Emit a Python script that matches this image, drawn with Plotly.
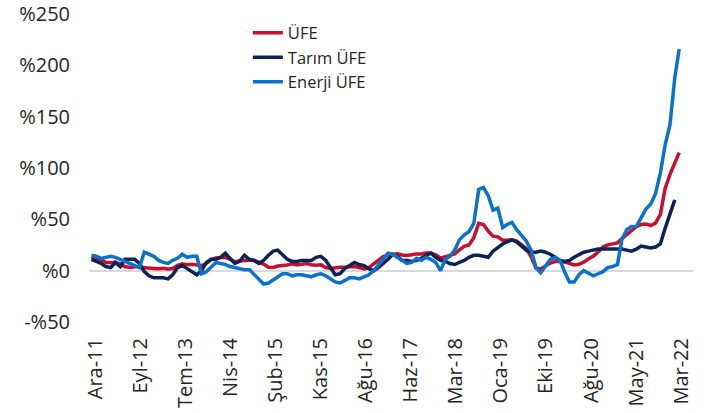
import numpy as np
import pandas as pd
import plotly.graph_objects as go

# Monthly dates: Dec 2011 .. Mar 2022
dates = pd.date_range("2011-12-01", "2022-03-01", freq="MS")

ufe = [13.33,
       11.13, 10.43, 8.22, 7.65, 8.28, 6.44, 3.98, 3.17, 4.03, 4.30, 2.79, 2.45,
       1.88, 1.84, 2.30, 1.70, 2.17, 5.23, 6.61, 5.79, 6.23, 5.67, 4.83, 6.97,
       10.72, 12.40, 12.31, 12.98, 11.28, 8.75, 9.46, 10.20, 10.10, 10.10, 8.36, 6.36,
       3.28, 3.10, 4.50, 4.80, 5.52, 6.73, 5.62, 6.21, 6.92, 5.74, 5.25, 5.71,
       3.03, 2.12, 2.87, 3.34, 3.25, 3.41, 3.96, 3.03, 1.78, 2.84, 6.41, 9.94,
       13.69, 15.36, 16.09, 16.37, 15.26, 14.87, 15.45, 16.34, 16.28, 17.28, 17.30, 15.47,
       12.14, 13.71, 14.28, 16.37, 20.16, 23.71, 25.00, 32.13, 46.15, 45.01, 38.54, 33.64,
       32.93, 29.59, 29.64, 30.12, 28.71, 25.04, 21.66, 13.45, 2.45, 1.70, 4.26, 7.36,
       8.84, 9.26, 8.50, 6.71, 5.53, 6.17, 8.33, 11.53, 14.33, 18.20, 23.11, 25.15,
       26.16, 27.09, 31.20, 35.17, 38.33, 42.89, 44.92, 45.52, 43.96, 46.31, 54.62, 79.89,
       93.53, 105.01, 114.97]

tarim_ufe = [11, 9, 7, 4, 3, 8, 4, 11, 11, 11,
             7, -1, -5, -7, -7, -7, -8, -4, 3, 5,
             2, -1, -4, 0, 8, 11, 11, 13, 17, 12,
             7, 9, 15, 11, 10, 7, 10, 15, 19, 20,
             15, 11, 9, 9, 10, 10, 10, 13, 14, 10,
             2, -4, -3, 2, 5, 8, 6, 5, 2, 0,
             3, 7, 11, 16, 14, 10, 10, 9, 10, 12,
             15, 17, 13, 10, 9, 7, 6, 8, 10, 13,
             15, 15, 14, 13, 19, 23, 26, 28, 30, 28,
             24, 20, 18, 18, 19, 18, 16, 13, 10, 9,
             10, 13, 16, 18, 19, 20, 21, 21, 21, 21,
             21, 21, 20, 19, 21, 24, 23, 22, 23, 26,
             41, 55, 69, None]

enerji_ufe = [15, 14, 12, 13, 14, 13, 11, 9, 7, 5,
              3, 18, 16, 14, 10, 8, 7, 10, 12, 16,
              13, 14, 14, -3, -1, 4, 8, 7, 6, 4,
              3, 2, 1, 1, -4, -9, -13, -12, -9, -6,
              -3, -3, -5, -4, -4, -5, -6, -4, -3, -5,
              -8, -11, -12, -10, -7, -7, -8, -6, -4, 0,
              6, 12, 17, 16, 13, 10, 7, 8, 12, 10,
              13, 11, 8, 0, 11, 14, 20, 30, 35, 38,
              46, 79, 81, 73, 59, 61, 42, 45, 47, 40,
              35, 29, 20, 3, -2, 4, 11, 13, 10, -1,
              -11, -11, -4, 0, -3, -5, -3, -1, 3, 4,
              6, 30, 40, 43, 43, 52, 60, 65, 75, 95,
              122, 142, 188, 216]

x_tick_labels = ["Ara-11", "Eyl-12", "Tem-13", "Nis-14", "Şub-15", "Kas-15", "Ağu-16",
                 "Haz-17", "Mar-18", "Oca-19", "Eki-19", "Ağu-20", "May-21", "Mar-22"]
y_tick_vals = [-50, 0, 50, 100, 150, 200, 250]
y_tick_labels = ["-%50", "%0", "%50", "%100", "%150", "%200", "%250"]

series_names = ["ÜFE", "Tarım ÜFE", "Enerji ÜFE"]
colors = ["#C8102E", "#0C2356", "#0A72CC"]

# evenly spaced tick positions across the date span
t0 = pd.Timestamp("2011-12-28").value
t1 = pd.Timestamp("2022-03-13").value
tick_pos = pd.to_datetime(np.linspace(t0, t1, len(x_tick_labels)).astype("int64"))

fig = go.Figure()
for name, vals, col in zip(series_names, [ufe, tarim_ufe, enerji_ufe], colors):
    fig.add_trace(go.Scatter(x=dates, y=vals, mode="lines", name=name,
                             line=dict(color=col, width=3.5), connectgaps=False))

font_family = "Open Sans"
fig.update_layout(
    width=710, height=413,
    margin=dict(l=89, r=17, t=14, b=91, autoexpand=False),
    paper_bgcolor="white", plot_bgcolor="white",
    font=dict(family=font_family, size=20, color="#262626"),
    showlegend=True,
    legend=dict(x=0.263, y=0.995, xanchor="left", yanchor="top",
                bgcolor="rgba(0,0,0,0)", font=dict(size=16.5, color="#262626"),
                tracegroupgap=0),
    xaxis=dict(
        range=[pd.Timestamp("2011-11-15"), pd.Timestamp("2022-05-28")],
        tickmode="array", tickvals=tick_pos, ticktext=x_tick_labels,
        tickangle=-90, showgrid=False, zeroline=False, showline=False,
        ticks="", ticklabelstandoff=11, automargin=False,
    ),
    yaxis=dict(
        range=[-50, 250], tickmode="array", tickvals=y_tick_vals,
        ticktext=y_tick_labels, showgrid=False, zeroline=True,
        zerolinecolor="#D9D9D9", zerolinewidth=2, showline=False,
        ticks="", ticklabelstandoff=18, automargin=False,
    ),
)

fig.write_html("out.html",
               config={"displayModeBar": False},
               post_script="document.body.style.margin='0';document.body.style.overflow='hidden';")
